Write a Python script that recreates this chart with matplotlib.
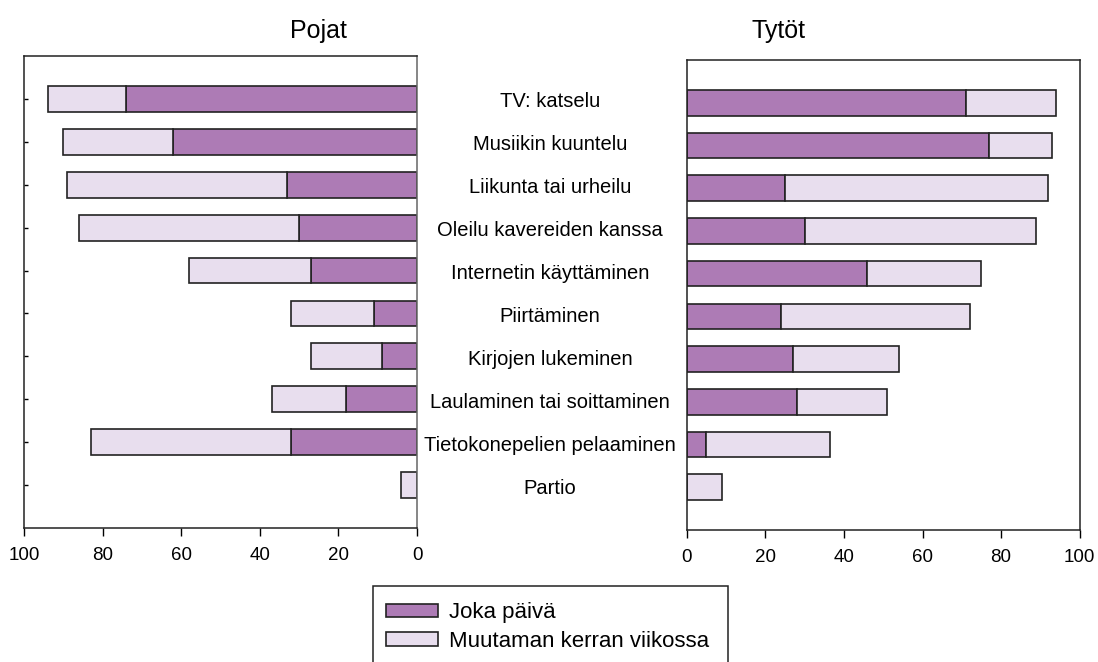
import numpy as np
from matplotlib import pyplot as plt, patches as pth, transforms as mtr

plt.rcParams['font.family'] = ['Liberation Sans', 'DejaVu Sans']

categories = ['TV: katselu', 'Musiikin kuuntelu', 'Liikunta tai urheilu',
              'Oleilu kavereiden kanssa', 'Internetin käyttäminen', 'Piirtäminen',
              'Kirjojen lukeminen', 'Laulaminen tai soittaminen',
              'Tietokonepelien pelaaminen', 'Partio']

# Pojat
boys_daily = [74, 62, 33, 30, 27, 11, 9, 18, 32, 0]
boys_weekly = [20, 28, 56, 56, 31, 21, 18, 19, 51, 4]
# Tytöt
girls_daily = [71, 77, 25, 30, 46, 24, 27, 28, 5, 0]
girls_weekly = [23, 16, 67, 59, 29, 48, 27, 23, 31.5, 9]

ticks = [0, 20, 40, 60, 80, 100]
series_names = ['Joka päivä', 'Muutaman kerran viikossa']

C_DAILY = '#ad7bb5'
C_WEEKLY = '#e8deee'
EDGE = '#222222'
FS = 14.5

W, H = 1098, 662
fig = plt.figure(figsize=(W / 100, H / 100), dpi=100)

ax_l = fig.add_axes([24 / W, 1 - 528 / H, 393 / W, 472 / H])
ax_r = fig.add_axes([686.7 / W, 1 - 530 / H, 393 / W, 470 / H])

y = np.arange(len(categories))

for ax, daily, weekly in ((ax_l, boys_daily, boys_weekly), (ax_r, girls_daily, girls_weekly)):
    ax.barh(y, daily, height=0.6, color=C_DAILY, edgecolor=EDGE, linewidth=1.2)
    ax.barh(y, weekly, left=daily, height=0.6, color=C_WEEKLY, edgecolor=EDGE, linewidth=1.2)
    ax.set_ylim(len(categories), -1)
    ax.set_xticks(ticks)
    ax.set_xticklabels([str(t) for t in ticks], fontsize=13.5)
    ax.tick_params(axis='x', direction='out', length=6, width=1, pad=8)
    for s in ax.spines.values():
        s.set_linewidth(1.1)
        s.set_color('#222222')

ax_l.set_xlim(100, 0)
ax_l.set_yticks(y)
ax_l.set_yticklabels([])
ax_l.tick_params(axis='y', direction='in', length=3, width=1)
ax_l.spines['right'].set_color('#666666')

ax_r.set_xlim(0, 100)
ax_r.set_yticks([])

# category labels between the panels
tr = mtr.blended_transform_factory(fig.transFigure, ax_l.transData)
for i, name in enumerate(categories):
    fig.text(550 / W, i + 0.07, name, transform=tr, ha='center', va='center', fontsize=FS)

fig.text(318 / W, 1 - 38 / H, 'Pojat', ha='center', va='baseline', fontsize=18)
fig.text(779 / W, 1 - 38 / H, 'Tytöt', ha='center', va='baseline', fontsize=18)

# legend
handles = [pth.Patch(facecolor=C_DAILY, edgecolor=EDGE, linewidth=1.2),
           pth.Patch(facecolor=C_WEEKLY, edgecolor=EDGE, linewidth=1.2)]
fig.legend(handles, series_names, loc='upper left', bbox_to_anchor=(386 / W, 1 - 602 / H),
           frameon=False, fontsize=16, borderpad=0, borderaxespad=0,
           handlelength=2.34, handleheight=0.54, handletextpad=0.5, labelspacing=0.35)
frame = pth.Rectangle((373 / W, -0.05), 355 / W, (1 - 586 / H) + 0.05, transform=fig.transFigure,
                      facecolor='none', edgecolor='#222222', linewidth=1.1)
fig.patches.append(frame)

fig.savefig('out.png', dpi=100)
